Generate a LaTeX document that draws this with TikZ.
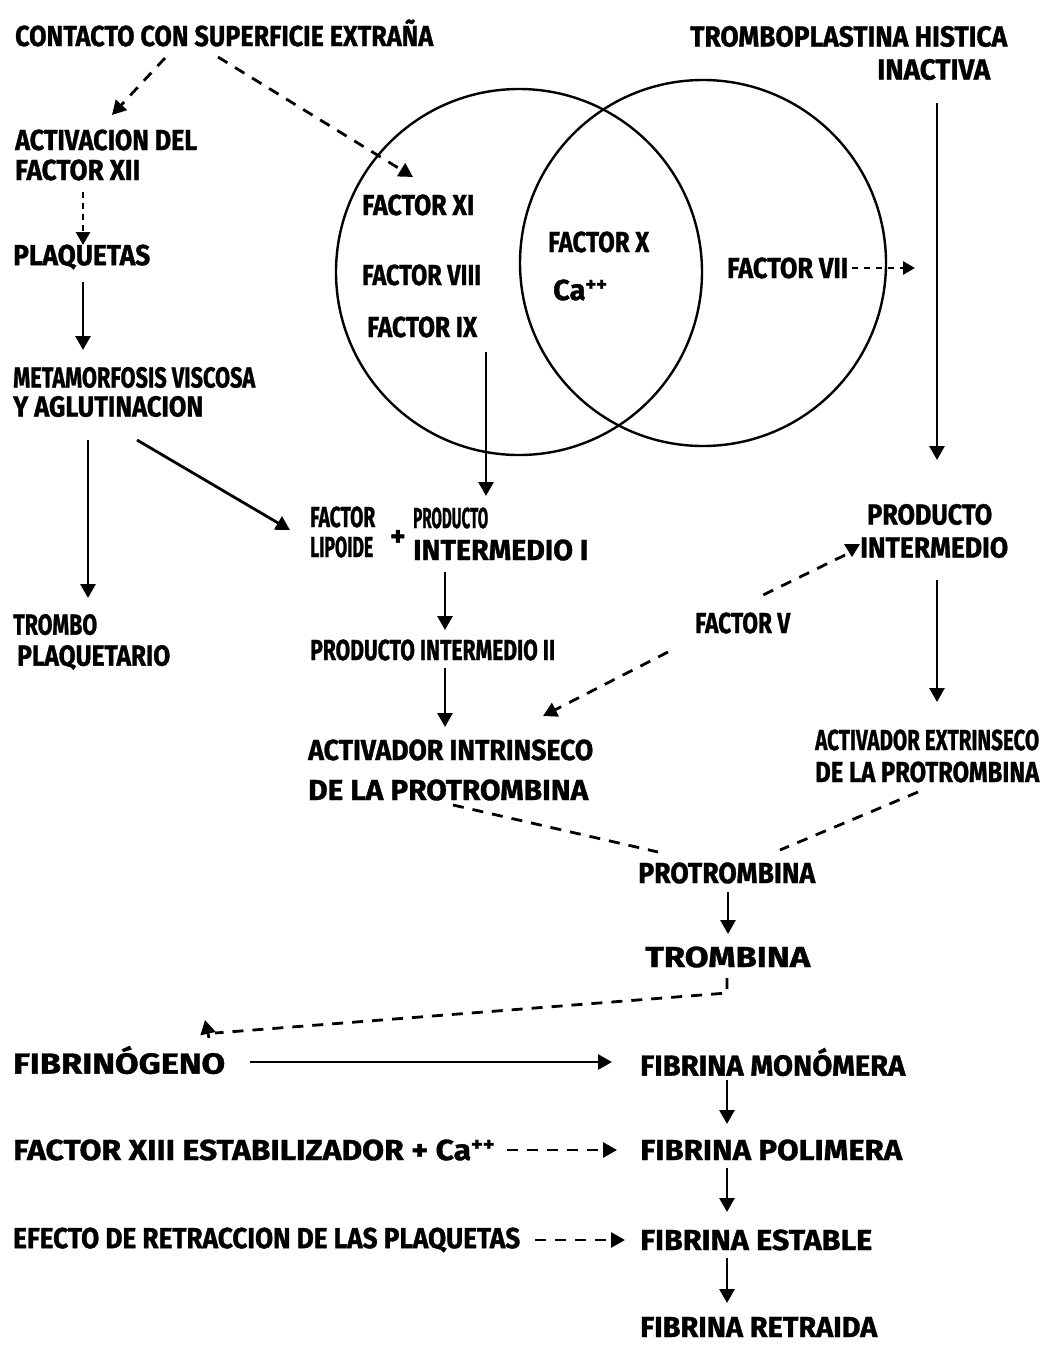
\documentclass[tikz,border=0pt]{standalone}
\usepackage{fontspec}
\setmainfont{Fira Sans}[BoldFeatures={FakeBold=1.2}]
\usetikzlibrary{arrows.meta}
\newcommand\fw[2]{\resizebox{#1pt}{\height}{#2}}
\begin{document}
\begin{tikzpicture}[x=1pt,y=-1pt,
  lbl/.style={anchor=west,inner sep=0pt,font=\fontsize{29}{32}\selectfont\bfseries,align=left},
  arr/.style={line width=2.8pt,-{Triangle[width=15pt,length=14pt]}},
  dsh/.style={line width=2.8pt,dash pattern=on 11pt off 9pt},
  darr/.style={dsh,-{Triangle[width=15pt,length=14pt]}},
  venn/.style={circle,draw,line width=2.4pt,inner sep=0pt,minimum size=366pt}]
\useasboundingbox[fill=white] (0,0) rectangle (1043,1346);

% Venn circles
\node[venn] (lc) at (519,272) {};
\node[venn] (rc) at (703,263) {};

% texts
\node[lbl] (cse) at (15,33) {\fw{418}{CONTACTO CON SUPERFICIE EXTRAÑA}};
\node[lbl] (thi) at (690,53) {\fw{317}{TROMBOPLASTINA HISTICA}\\[1pt]\hspace*{187pt}\fw{113}{INACTIVA}};
\node[lbl] (act) at (15,155) {\fw{182}{ACTIVACION DEL}\\[-2pt]\fw{125}{FACTOR XII}};
\node[lbl] (plaq) at (13,257) {\fw{137}{PLAQUETAS}};
\node[lbl] (meta) at (13,392) {\fw{242}{METAMORFOSIS VISCOSA}\\[-3pt]\fw{190}{Y AGLUTINACION}};
\node[lbl] (trombo) at (13,642) {\fw{84}{TROMBO}\\[-1pt]\hspace*{4pt}\fw{153}{PLAQUETARIO}};
\node[lbl] (fxi) at (362,205) {\fw{112}{FACTOR XI}};
\node[lbl] (fviii) at (362,275) {\fw{119}{FACTOR VIII}};
\node[lbl] (fix) at (367,327) {\fw{110}{FACTOR IX}};
\node[lbl] (fx) at (548,242) {\fw{101}{FACTOR X}};
\node[lbl] (ca) at (553,290) {Ca\textsuperscript{++}};
\node[lbl] (fvii) at (727,268) {\fw{121}{FACTOR VII}};
\node[lbl] (fl) at (310,532) {\fw{65}{FACTOR}\\[-2pt]\fw{63}{LIPOIDE}};
\node[lbl] (plus) at (390,538) {+};
\node[lbl] (pi1) at (413,534) {\fw{75}{PRODUCTO}\\[0pt]\fw{175}{INTERMEDIO I}};
\node[lbl] (pi2) at (310,650) {\fw{245}{PRODUCTO INTERMEDIO II}};
\node[lbl] (ai) at (308,770) {\fw{285}{ACTIVADOR INTRINSECO}\\[8pt]\fw{280}{DE LA PROTROMBINA}};
\node[lbl] (pie) at (860,531) {\hspace*{7pt}\fw{125}{PRODUCTO}\\[1pt]\fw{148}{INTERMEDIO}};
\node[lbl] (ae) at (815,756) {\fw{224}{ACTIVADOR EXTRINSECO}\\[0pt]\fw{224}{DE LA PROTROMBINA}};
\node[lbl] (protr) at (638,873) {\fw{177}{PROTROMBINA}};
\node[lbl] (tromb) at (645,957) {\fw{165}{TROMBINA}};
\node[lbl] (fibno) at (13,1060) {\fw{212}{FIBRINÓGENO}};
\node[lbl] (fm) at (640,1062) {\fw{265}{FIBRINA MONÓMERA}};
\node[lbl] (f13) at (13,1150) {\fw{482}{FACTOR XIII ESTABILIZADOR + Ca\textsuperscript{++}}};
\node[lbl] (fp) at (640,1150) {\fw{262}{FIBRINA POLIMERA}};
\node[lbl] (ef) at (13,1240) {\fw{507}{EFECTO DE RETRACCION DE LAS PLAQUETAS}};
\node[lbl] (fe) at (640,1240) {\fw{232}{FIBRINA ESTABLE}};
\node[lbl] (fr) at (640,1327) {\fw{237}{FIBRINA RETRAIDA}};
\node[lbl] (fv) at (695,623) {\fw{95}{FACTOR V}};

% connectors
\draw[darr] ([shift={(150,25)}]cse.west) -- ([shift={(97,-40)}]act.west);
\draw[darr] ([shift={(203,24)}]cse.west) -- ([shift={(51,-28)}]fxi.west);
\draw[line width=2.8pt,dash pattern=on 6pt off 5pt,-{Triangle[width=14pt,length=13pt]}]
  ([shift={(68,37)}]act.west) -- ([shift={(70,-12)}]plaq.west);
\draw[arr] ([shift={(70,25)}]plaq.west) -- ([shift={(70,-42)}]meta.west);
\draw[arr] ([shift={(75,48)}]meta.west) -- ([shift={(75,-44)}]trombo.west);
\draw[arr] ([shift={(124,48)}]meta.west) -- ([shift={(-20,-2)}]fl.west);
\draw[arr] ([shift={(119,25)}]fix.west) -- ([shift={(73,-38)}]pi1.west);
\draw[arr] ([shift={(247,50)}]thi.west) -- ([shift={(77,-71)}]pie.west);
\draw[line width=2.8pt,dash pattern=on 6pt off 6pt,-{Triangle[width=13pt,length=12pt]}]
  ([shift={(125,0)}]fvii.west) -- ([shift={(188,0)}]fvii.west);
\draw[arr] ([shift={(32,38)}]pi1.west) -- ([shift={(135,-20)}]pi2.west);
\draw[arr] ([shift={(135,18)}]pi2.west) -- ([shift={(137,-43)}]ai.west);
\draw[dsh] ([shift={(-15,24)}]pie.west) -- ([shift={(62,-25)}]fv.west);
\draw[darr] ([shift={(-27,29)}]fv.west) -- ([shift={(235,-54)}]ai.west);
\fill (844,544) -- (860,544) -- (852,557) -- cycle;
\draw[arr] ([shift={(77,49)}]pie.west) -- ([shift={(122,-54)}]ae.west);
\draw[dsh] ([shift={(145,35)}]ai.west) -- ([shift={(20,-21)}]protr.west);
\draw[dsh] ([shift={(103,36)}]ae.west) -- ([shift={(142,-23)}]protr.west);
\draw[arr] ([shift={(90,19)}]protr.west) -- ([shift={(83,-23)}]tromb.west);
\draw[dsh] ([shift={(82,21)}]tromb.west) -- ([shift={(82,36)}]tromb.west) -- ([shift={(202,-27)}]fibno.west);
\draw[arr] ([shift={(196,-22)}]fibno.west) -- ([shift={(192,-40)}]fibno.west);
\draw[arr] ([shift={(237,2)}]fibno.west) -- ([shift={(-28,0)}]fm.west);
\draw[arr] ([shift={(87,18)}]fm.west) -- ([shift={(87,-26)}]fp.west);
\draw[darr] ([shift={(494,0)}]f13.west) -- ([shift={(-23,0)}]fp.west);
\draw[arr] ([shift={(87,18)}]fp.west) -- ([shift={(87,-28)}]fe.west);
\draw[darr] ([shift={(522,0)}]ef.west) -- ([shift={(-15,0)}]fe.west);
\draw[arr] ([shift={(87,18)}]fe.west) -- ([shift={(87,-24)}]fr.west);
\end{tikzpicture}
\end{document}
